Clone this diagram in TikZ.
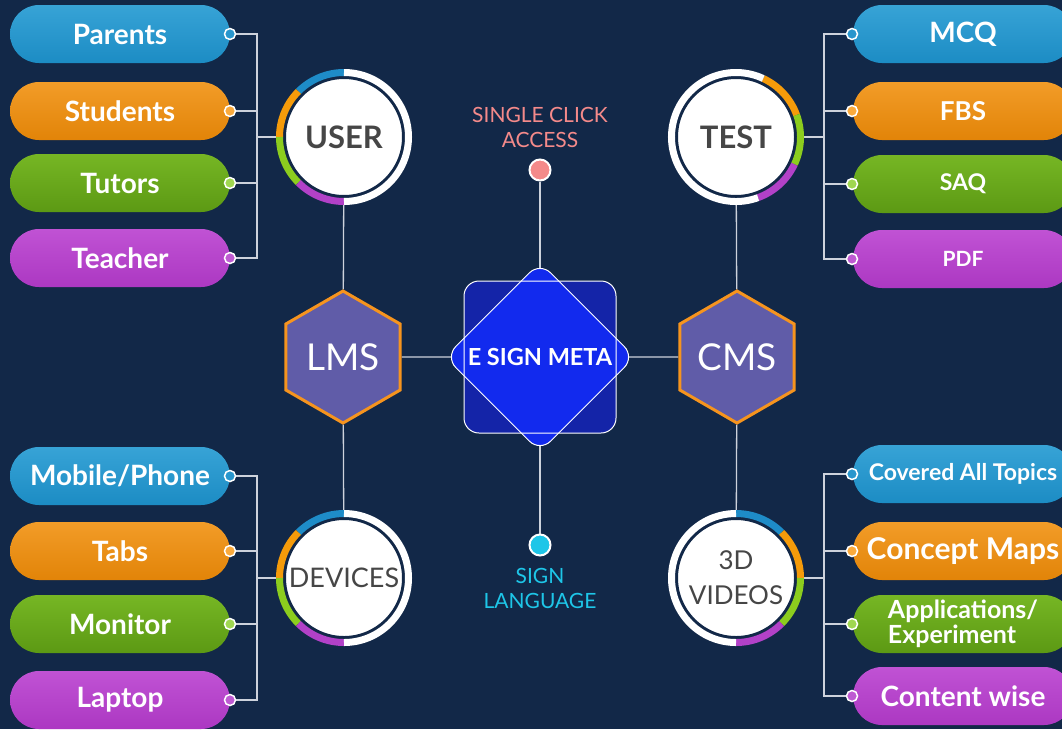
\documentclass[tikz,border=0pt]{standalone}
\usepackage{fontspec}
\setmainfont{Lato}
\usetikzlibrary{shapes,positioning}

\definecolor{navy}{RGB}{18,40,72}
\definecolor{linkgray}{RGB}{205,210,220}
\definecolor{ringblue}{RGB}{30,140,200}
\definecolor{ringorange}{RGB}{245,155,10}
\definecolor{ringgreen}{RGB}{140,205,30}
\definecolor{ringpurple}{RGB}{178,65,200}
\definecolor{circtext}{RGB}{70,70,70}
\definecolor{hexfill}{RGB}{96,92,168}
\definecolor{hexline}{RGB}{246,148,30}
\definecolor{sqfill}{RGB}{20,36,168}
\definecolor{diafill}{RGB}{18,42,238}
\definecolor{pinktext}{RGB}{244,138,138}
\definecolor{cyantext}{RGB}{30,198,232}
\definecolor{pillblueA}{RGB}{55,163,214}
\definecolor{pillblueB}{RGB}{28,140,196}
\definecolor{pillorangeA}{RGB}{242,156,40}
\definecolor{pillorangeB}{RGB}{226,132,8}
\definecolor{pillgreenA}{RGB}{118,182,36}
\definecolor{pillgreenB}{RGB}{92,153,20}
\definecolor{pillpurpleA}{RGB}{192,82,212}
\definecolor{pillpurpleB}{RGB}{172,56,194}
\definecolor{dotblue}{RGB}{40,150,205}
\definecolor{dotorange}{RGB}{250,170,60}
\definecolor{dotgreen}{RGB}{160,215,80}
\definecolor{dotpurple}{RGB}{190,90,210}

\pgfdeclarelayer{back}
\pgfdeclarelayer{links}
\pgfsetlayers{back,links,main}

\tikzset{
link/.style={draw=linkgray,line width=1.3pt},
pill/.style={rounded corners=29pt,minimum width=220pt,minimum height=58pt,inner sep=0pt,text=white,align=left},
pillblue/.style={top color=pillblueA,bottom color=pillblueB},
pillorange/.style={top color=pillorangeA,bottom color=pillorangeB},
pillgreen/.style={top color=pillgreenA,bottom color=pillgreenB},
pillpurple/.style={top color=pillpurpleA,bottom color=pillpurpleB},
dot/.style={circle,draw=white,line width=1.5pt,minimum size=11pt,inner sep=0pt},
hub/.style={circle,fill=white,draw=navy,line width=6pt,minimum size=122pt,inner sep=0pt,text=circtext,align=center},
ring/.style={line width=7pt},
hexa/.style={regular polygon,regular polygon sides=6,shape border rotate=30,minimum size=132pt,inner sep=0pt,
  fill=hexfill,draw=hexline,line width=3pt,text=white,font=\fontsize{37}{40}\selectfont},
sqbox/.style={rectangle,rounded corners=15pt,minimum size=152pt,inner sep=0pt},
diabox/.style={rectangle,rounded corners=15pt,minimum size=134pt,inner sep=0pt,rotate=45},
tipdot/.style={circle,draw=white,line width=2pt,minimum size=21pt,inner sep=0pt},
caption/.style={align=center,font=\fontsize{21}{25}\selectfont}
}

\begin{document}
\begin{tikzpicture}[x=1pt,y=1pt]
\useasboundingbox (0,0) rectangle (1062,-729);
\begin{pgfonlayer}{back}
\fill[navy] (0,0) rectangle (1062,-729);
\end{pgfonlayer}

\node[hub,font=\bfseries\fontsize{31}{33}\selectfont] (user) at (344,-137) {USER};
\node[hub,font=\fontsize{27}{29}\selectfont] (devices) at (344,-578) {DEVICES};
\node[hub,font=\bfseries\fontsize{31}{33}\selectfont] (test) at (736,-137) {TEST};
\node[hub,font=\fontsize{26}{35}\selectfont] (videos) at (736,-578) {3D\\VIDEOS};

\foreach \a/\b/\c in {90/135/ringblue,135/180/ringorange,180/225/ringgreen,225/270/ringpurple,270/450/white}{
\draw[ring,\c] (user.center) ++(\a:64.5pt) arc[start angle=\a,end angle=\b,radius=64.5pt];
\draw[ring,\c] (devices.center) ++(\a:64.5pt) arc[start angle=\a,end angle=\b,radius=64.5pt];
}
\foreach \a/\b/\c in {65/20/ringorange,20/-25/ringgreen,-25/-70/ringpurple,-70/-295/white}
\draw[ring,\c] (test.center) ++(\a:64.5pt) arc[start angle=\a,end angle=\b,radius=64.5pt];
\foreach \a/\b/\c in {90/45/ringblue,45/0/ringorange,0/-45/ringgreen,-45/-90/ringpurple,-90/-270/white}
\draw[ring,\c] (videos.center) ++(\a:64.5pt) arc[start angle=\a,end angle=\b,radius=64.5pt];

\node[hexa] (lms) at (343,-357) {LMS};
\node[hexa] (cms) at (737,-357) {CMS};

\node[sqbox,fill=sqfill] (sq) at (540,-357) {};
\node[diabox,fill=diafill] (dia) at (540,-357) {};
\node[sqbox,draw=white,line width=1pt] (sqline) at (sq) {};
\node[diabox,draw=white,line width=1pt] (dialine) at (dia) {};
\node[text=white,font=\bfseries\fontsize{23.5}{25}\selectfont] (meta) at (sq) {E SIGN META};

\node[tipdot,fill=pinktext] (click) at (540,-170) {};
\node[caption,text=pinktext] (clicktext) at (540,-127) {SINGLE CLICK\\ACCESS};
\node[tipdot,fill=cyantext] (signdot) at (540,-545) {};
\node[caption,text=cyantext] (signtext) at (540,-588) {SIGN\\LANGUAGE};

\coordinate (userbus) at (257,-137);
\coordinate (devbus) at (257,-578);
\coordinate (testbus) at (824,-137);
\coordinate (vidbus) at (824,-578);

\foreach \n/\t/\y/\c/\s in {parents/Parents/34/blue/28,students/Students/111/orange/28,
  tutors/Tutors/183/green/28,teacher/Teacher/258/purple/28,
  mobile/{Mobile/Phone}/476/blue/28,tabs/Tabs/551/orange/28,
  monitor/Monitor/624/green/28,laptop/Laptop/700/purple/28}{
\node[pill,pill\c,font=\bfseries\fontsize{\s}{\s}\selectfont] (\n) at (120,-\y) {\t};
\node[dot,fill=dot\c] (\n-dot) at (230,-\y) {};
}
\foreach \n/\t/\y/\c/\s in {mcq/MCQ/34/blue/28,fbs/FBS/111/orange/26,
  saq/SAQ/184/green/23,pdf/PDF/259/purple/21,
  topics/Covered All Topics/474/blue/23,maps/Concept Maps/551/orange/30,
  apps/{Applications/\\Experiment}/624/green/25,content/Content wise/696/purple/28}{
\node[pill,pill\c,font=\bfseries\fontsize{\s}{\s}\selectfont] (\n) at (963,-\y) {\t};
\node[dot,fill=dot\c] (\n-dot) at (852,-\y) {};
}

\begin{pgfonlayer}{links}
\foreach \n in {parents,students,tutors,teacher} \draw[link] (\n-dot) -| (userbus);
\foreach \n in {mobile,tabs,monitor,laptop} \draw[link] (\n-dot) -| (devbus);
\foreach \n in {mcq,fbs,saq,pdf} \draw[link] (\n-dot) -| (testbus);
\foreach \n in {topics,maps,apps,content} \draw[link] (\n-dot) -| (vidbus);
\draw[link] (userbus) -- (user);
\draw[link] (devbus) -- (devices);
\draw[link] (testbus) -- (test);
\draw[link] (vidbus) -- (videos);
\draw[link] (user) -- (lms) -- (devices);
\draw[link] (test) -- (cms) -- (videos);
\draw[link] (lms) -- (sq) -- (cms);
\draw[link] (click) -- (sq) -- (signdot);
\end{pgfonlayer}
\end{tikzpicture}
\end{document}
